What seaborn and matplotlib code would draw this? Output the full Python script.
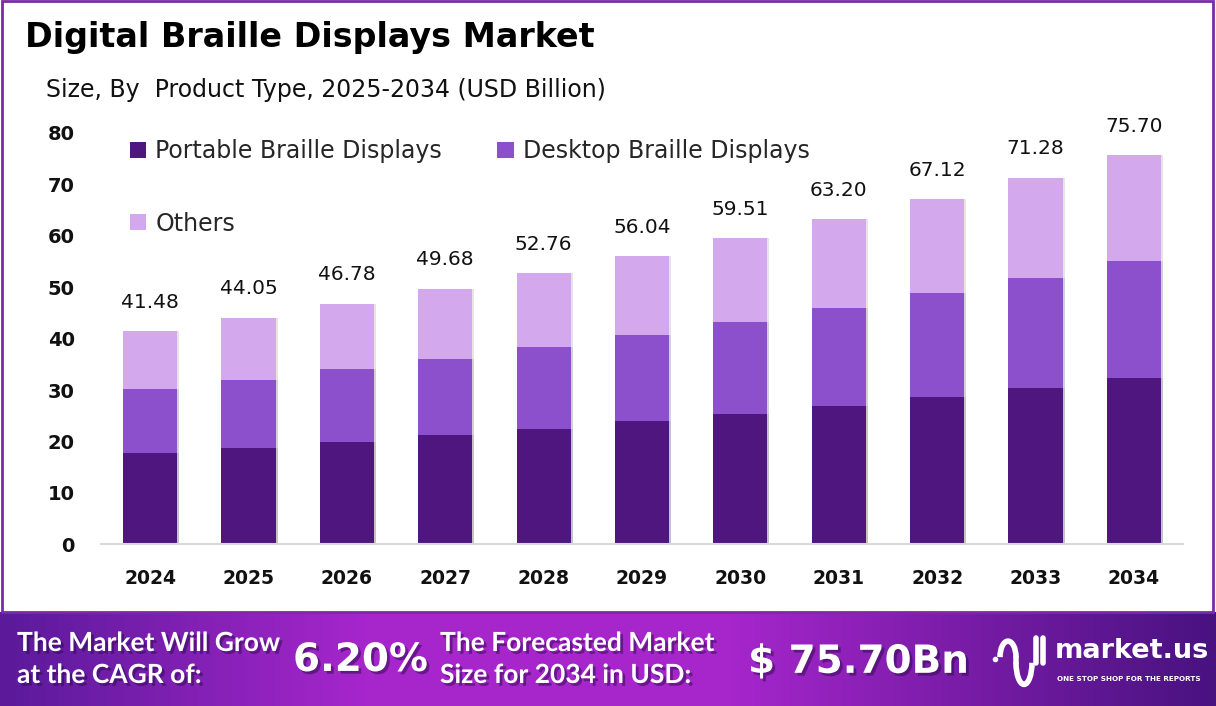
import numpy as np
import pandas as pd
import matplotlib
matplotlib.use("Agg")
import matplotlib.pyplot as plt
import matplotlib.patheffects as pe
from matplotlib.patches import Rectangle, Arc
import seaborn as sns

years = ["2024", "2025", "2026", "2027", "2028", "2029", "2030", "2031", "2032", "2033", "2034"]
totals = [41.48, 44.05, 46.78, 49.68, 52.76, 56.04, 59.51, 63.20, 67.12, 71.28, 75.70]
portable = [17.75, 18.72, 19.89, 21.25, 22.42, 24.00, 25.37, 26.90, 28.64, 30.39, 32.40]
desktop = [12.45, 13.23, 14.20, 14.78, 15.94, 16.70, 17.89, 19.05, 20.22, 21.39, 22.69]
others = [round(t - p - d, 2) for t, p, d in zip(totals, portable, desktop)]
segments = ["Portable Braille Displays", "Desktop Braille Displays", "Others"]
y_ticks = [0, 10, 20, 30, 40, 50, 60, 70, 80]

cagr = "6.20%"
forecast = "$ 75.70Bn"

colors = ["#4f1680", "#8c50cc", "#d4a8ec"]

df = pd.DataFrame({"year": years, segments[0]: portable, segments[1]: desktop, segments[2]: others})

sns.set_theme(style="white")
plt.rcParams["font.family"] = ["DejaVu Sans"]

fig = plt.figure(figsize=(12.16, 7.06), dpi=100)
ax = fig.add_axes([101 / 1216, (706 - 544.3) / 706, (1183 - 101) / 1216, (544.3 - 133) / 706])

# stacked bars: draw cumulative heights from back to front
shadow = [pe.SimplePatchShadow(offset=(1.5, 0), shadow_rgbFace="#9a9a9a", alpha=0.25), pe.Normal()]
cum = df[segments].cumsum(axis=1)
for i in range(len(segments) - 1, -1, -1):
    sub = pd.DataFrame({"year": years, "value": cum[segments[i]]})
    sns.barplot(data=sub, x="year", y="value", color=colors[i], width=0.55,
                saturation=1, ax=ax, label=segments[i], edgecolor="none")
for p in ax.patches:
    p.set_path_effects(shadow)

for i, t in enumerate(totals):
    ax.annotate(f"{t:.2f}", (i, t), xytext=(0, 14), textcoords="offset points",
                ha="center", va="bottom", fontsize=14.5, color="#111111")

ax.set_ylim(0, 80)
ax.set_xlim(-0.5, 10.5)
ax.set_yticks(y_ticks)
ax.set_yticklabels([str(v) for v in y_ticks], fontsize=14, fontweight="bold", color="#111111")
ax.set_xticklabels(years, fontsize=13.5, fontweight="bold", color="#111111")
ax.tick_params(axis="y", length=0, pad=19)
ax.tick_params(axis="x", length=0, pad=18)
ax.set_xlabel("")
ax.set_ylabel("")
for s in ["top", "right", "left"]:
    ax.spines[s].set_visible(False)
ax.spines["bottom"].set_color("#d9d9d9")
ax.spines["bottom"].set_linewidth(1.5)
ax.grid(False)

handles, labels = ax.get_legend_handles_labels()
# matplotlib fills legend columns first -> Portable, Others | Desktop
order = [labels.index(s) for s in [segments[0], segments[2], segments[1]]]
leg = ax.legend([handles[k] for k in order], [labels[k] for k in order], ncol=2,
                loc="upper left", bbox_to_anchor=(0.027, 0.985), frameon=False,
                borderaxespad=0, borderpad=0,
                fontsize=17, handlelength=0.68, handleheight=0.68, handletextpad=0.38,
                columnspacing=2.35, labelspacing=2.05)
for h in leg.legend_handles:
    h.set_path_effects([])

# titles
fig.text(25 / 1216, 1 - 37 / 706, "Digital Braille Displays Market", fontsize=24,
         fontweight="bold", va="center", ha="left", color="#000000")
fig.text(46 / 1216, 1 - 90 / 706, "Size, By  Product Type, 2025-2034 (USD Billion)", fontsize=17,
         va="center", ha="left", color="#111111")

# footer band with gradient
fax = fig.add_axes([0, 0, 1, 94 / 706])
xs = np.linspace(0, 1, 400)
c_left = np.array([0x5a, 0x1a, 0x9a]) / 255
c_mid = np.array([0xa6, 0x26, 0xcc]) / 255
c_right = np.array([0x48, 0x12, 0x80]) / 255
grad = np.zeros((1, len(xs), 3))
for j, x in enumerate(xs):
    if x < 0.3:
        w = x / 0.3
        grad[0, j] = c_left * (1 - w) + c_mid * w
    elif x < 0.6:
        grad[0, j] = c_mid
    else:
        w = (x - 0.6) / 0.4
        grad[0, j] = c_mid * (1 - w) + c_right * w
fax.imshow(grad, aspect="auto", extent=[0, 1, 0, 1])
fax.set_xlim(0, 1)
fax.set_ylim(0, 1)
fax.axis("off")

txt_shadow = [pe.withSimplePatchShadow(offset=(2, -2), shadow_rgbFace="#2a0a4a", alpha=0.5)]
ft = dict(family=["Lato", "DejaVu Sans"], fontsize=19, fontweight="bold", color="white",
          va="center", ha="left", path_effects=txt_shadow)
fax.text(17 / 1216, 0.67, "The Market Will Grow", **ft)
fax.text(17 / 1216, 0.33, "at the CAGR of:", **ft)
fax.text(440 / 1216, 0.67, "The Forecasted Market", **ft)
fax.text(440 / 1216, 0.33, "Size for 2034 in USD:", **ft)
fax.text(293 / 1216, 0.49, cagr, fontsize=28, fontweight="bold", color="white",
         va="center", ha="left", path_effects=txt_shadow)
fax.text(748 / 1216, 0.47, forecast, fontsize=28, fontweight="bold", color="white",
         va="center", ha="left", path_effects=txt_shadow)

# market.us logo
fax.text(1055 / 1216, 0.58, "market.us", fontsize=19.5, fontweight="bold", color="white",
         va="center", ha="left")
fax.text(1057 / 1216, 0.29, "ONE STOP SHOP FOR THE REPORTS", fontsize=5.2, fontweight="bold",
         color="white", va="center", ha="left")
fax.add_patch(Arc((1008 / 1216, 0.52), 16 / 1216, 0.34, theta1=0, theta2=180,
                  color="white", lw=4))
fax.add_patch(Arc((1024 / 1216, 0.46), 16 / 1216, 0.46, theta1=180, theta2=360,
                  color="white", lw=4))
fax.plot([1016 / 1216, 1016 / 1216], [0.46, 0.52], color="white", lw=4)
fax.plot([1036 / 1216, 1036 / 1216], [0.46, 0.72], color="white", lw=4, solid_capstyle="round")
fax.plot([1043 / 1216, 1043 / 1216], [0.46, 0.72], color="white", lw=4, solid_capstyle="round")
fax.plot([995 / 1216], [0.50], "o", color="white", ms=3)

# outer border
fig.add_artist(Rectangle((2 / 1216, 94 / 706), 1 - 5 / 1216, 1 - 95 / 706, transform=fig.transFigure,
                         fill=False, edgecolor="#7a2aa8", lw=2))

fig.savefig("out.png", dpi=100)
